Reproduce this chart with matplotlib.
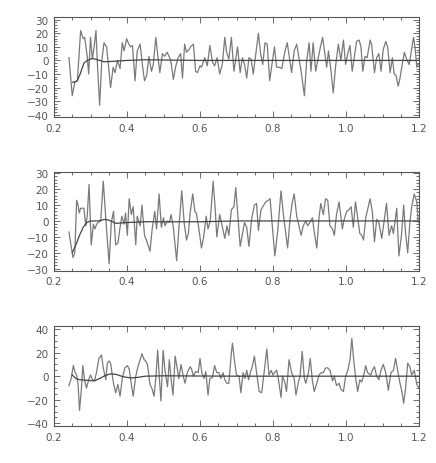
import matplotlib
matplotlib.use("Agg")
import matplotlib.pyplot as plt
from matplotlib.ticker import MultipleLocator

# ---------------- data ----------------
p1_x = [0.241, 0.250, 0.257, 0.264, 0.273, 0.280, 0.284, 0.291, 0.295, 0.300, 0.305, 0.310, 0.315, 0.319,
        0.325, 0.331, 0.337, 0.344, 0.349, 0.355, 0.362, 0.367, 0.374, 0.381, 0.387, 0.392, 0.399, 0.405,
        0.410, 0.415, 0.422, 0.428, 0.436, 0.442, 0.448, 0.454, 0.460, 0.467, 0.472, 0.479, 0.485, 0.490,
        0.497, 0.503, 0.510, 0.520, 0.527, 0.533, 0.540, 0.547, 0.552, 0.558, 0.563, 0.570, 0.574, 0.582,
        0.588, 0.593, 0.600, 0.604, 0.613, 0.620, 0.627, 0.634, 0.640, 0.647, 0.654, 0.661, 0.668, 0.673,
        0.679, 0.686, 0.693, 0.703, 0.710, 0.716, 0.722, 0.728, 0.734, 0.740, 0.746, 0.753, 0.760, 0.766,
        0.772, 0.778, 0.784, 0.791, 0.796, 0.804, 0.810, 0.816, 0.824, 0.833, 0.839, 0.845, 0.851, 0.858,
        0.865, 0.871, 0.877, 0.886, 0.892, 0.899, 0.904, 0.910, 0.917, 0.924, 0.930, 0.936, 0.942, 0.947,
        0.952, 0.959, 0.965, 0.972, 0.979, 0.986, 0.993, 0.999, 1.005, 1.011, 1.017, 1.023, 1.029, 1.036,
        1.041, 1.046, 1.052, 1.058, 1.066, 1.070, 1.078, 1.084, 1.090, 1.096, 1.102, 1.109, 1.114, 1.121,
        1.127, 1.132, 1.137, 1.143, 1.148, 1.154, 1.160, 1.166, 1.173, 1.178, 1.185, 1.189, 1.194, 1.198]
p1_y = [2, -26, -16, -15, 22, 16, 17, 3, -10, 17, 1, 10, 22, -3,
        -33, 0, 13, 10, -3, -20, -5, -9, 0, -6, 13, 7, 16, 12,
        10, 11, -15, 7, 12, -3, -15, -11, 3, -8, -3, 17, 2, -9,
        5, 3, 6, 0, -14, -5, 2, 5, -13, 12, 6, 8, 10, 12,
        -8, -9, -4, -5, 2, -4, 11, -1, -4, 2, -10, -3, 17, 6,
        1, 17, -8, 10, -9, 2, -3, -13, 2, 1, -10, 5, 20, 5,
        -3, 13, 12, -15, -5, 10, -5, -5, -6, 7, 13, 2, -9, 7,
        12, 2, -8, -26, -1, 13, -8, 13, -8, 2, 10, 17, 5, -5,
        7, -8, -24, -3, 12, 0, 15, -3, 5, 11, -8, 3, 14, 15,
        10, -8, 3, 2, 15, 12, -9, 2, 5, -8, 8, 14, 10, -9,
        2, -10, -11, -19, -13, -3, 6, 1, -3, 5, 17, 10, -5, -3]
p1_sx = [0.251, 0.257, 0.264, 0.273, 0.282, 0.291, 0.305, 0.319, 0.337, 0.360, 0.400, 0.450, 0.500, 0.600, 0.800, 1.000, 1.200]
p1_sy = [-16, -16, -15, -9, -2, 0, 1.5, 0.5, -1, -0.7, 0, 0.5, 0.3, 0, 0, 0, 0]

p2_x = [0.241, 0.247, 0.252, 0.257, 0.262, 0.266, 0.269, 0.273, 0.282, 0.287, 0.291, 0.296, 0.302, 0.308,
        0.312, 0.317, 0.321, 0.328, 0.335, 0.342, 0.351, 0.357, 0.363, 0.369, 0.375, 0.381, 0.386, 0.392,
        0.396, 0.401, 0.406, 0.412, 0.417, 0.424, 0.428, 0.436, 0.441, 0.448, 0.456, 0.463, 0.469, 0.476,
        0.481, 0.488, 0.494, 0.500, 0.504, 0.511, 0.516, 0.521, 0.527, 0.536, 0.542, 0.550, 0.557, 0.563,
        0.568, 0.573, 0.580, 0.586, 0.590, 0.597, 0.604, 0.610, 0.617, 0.622, 0.628, 0.636, 0.641, 0.646,
        0.654, 0.668, 0.674, 0.679, 0.686, 0.693, 0.698, 0.710, 0.722, 0.728, 0.734, 0.742, 0.749, 0.755,
        0.760, 0.767, 0.780, 0.787, 0.792, 0.798, 0.805, 0.813, 0.822, 0.828, 0.840, 0.847, 0.853, 0.858,
        0.865, 0.877, 0.883, 0.890, 0.895, 0.901, 0.908, 0.913, 0.920, 0.926, 0.931, 0.938, 0.944, 0.950,
        0.956, 0.963, 0.968, 0.974, 0.981, 0.990, 0.995, 1.002, 1.008, 1.014, 1.020, 1.026, 1.032, 1.038,
        1.043, 1.048, 1.054, 1.066, 1.072, 1.078, 1.084, 1.090, 1.098, 1.111, 1.118, 1.125, 1.130, 1.139,
        1.145, 1.152, 1.158, 1.163, 1.169, 1.175, 1.180, 1.187, 1.194, 1.198]
p2_y = [-7, -16, -23, -20, 13, 10, 5, 8, 8, -3, 3, 23, -15, -2,
        -5, -2, -1, 0, 25, 1, -27, -1, 6, -15, -14, -4, 3, -2,
        5, -9, 14, 4, 9, -15, 3, -3, 10, -9, -14, -19, -5, 6,
        -5, 17, -4, 2, -3, 0, -1, 4, -4, -25, -5, 19, -2, -12,
        -8, 5, 17, 6, 5, -5, -17, -10, 3, -5, 0, 25, 10, -10,
        4, -11, -3, -9, 7, 9, 21, -16, -1, -4, -16, 2, 10, 11,
        -6, 7, 12, 13, 14, -3, -22, -6, 19, 5, -17, 2, 12, 17,
        3, -9, -3, 0, -3, -1, 2, -7, -17, 2, 11, 4, 14, 13,
        -3, -5, -9, 4, 12, -5, 1, 6, 7, 9, -4, 12, 2, -8,
        -9, -12, 2, 14, 6, -13, 1, -1, -11, 11, -9, -3, -8, 8,
        -22, -9, 10, -7, -20, -1, 9, 17, 12, -1]
p2_sx = [0.250, 0.260, 0.270, 0.280, 0.290, 0.300, 0.320, 0.340, 0.350, 0.370, 0.400, 0.450, 0.500, 0.600, 0.700, 0.900, 1.200]
p2_sy = [-20, -15, -9, -4, -1, 0, 0, 1, 0.5, -1.5, -1, -0.5, -0.5, -0.5, 0, 0, 0]

p3_x = [0.241, 0.247, 0.253, 0.258, 0.262, 0.266, 0.270, 0.275, 0.279, 0.284, 0.289, 0.295, 0.300, 0.306,
        0.311, 0.317, 0.323, 0.330, 0.335, 0.342, 0.346, 0.351, 0.355, 0.363, 0.369, 0.375, 0.381, 0.387,
        0.394, 0.401, 0.406, 0.412, 0.417, 0.424, 0.430, 0.436, 0.441, 0.447, 0.451, 0.456, 0.463, 0.469,
        0.474, 0.479, 0.484, 0.489, 0.493, 0.499, 0.504, 0.511, 0.516, 0.521, 0.526, 0.532, 0.538, 0.542,
        0.548, 0.554, 0.559, 0.565, 0.573, 0.577, 0.582, 0.588, 0.595, 0.600, 0.605, 0.611, 0.616, 0.622,
        0.627, 0.634, 0.640, 0.646, 0.652, 0.657, 0.663, 0.668, 0.673, 0.679, 0.686, 0.689, 0.694, 0.700,
        0.707, 0.712, 0.718, 0.723, 0.728, 0.733, 0.737, 0.743, 0.749, 0.755, 0.762, 0.769, 0.776, 0.783,
        0.789, 0.795, 0.800, 0.804, 0.810, 0.815, 0.822, 0.826, 0.833, 0.837, 0.844, 0.851, 0.858, 0.863,
        0.869, 0.874, 0.880, 0.886, 0.890, 0.897, 0.902, 0.908, 0.913, 0.920, 0.926, 0.932, 0.938, 0.944,
        0.950, 0.956, 0.963, 0.968, 0.974, 0.981, 0.986, 0.993, 0.999, 1.005, 1.011, 1.016, 1.021, 1.027,
        1.032, 1.038, 1.043, 1.048, 1.054, 1.059, 1.068, 1.072, 1.078, 1.084, 1.090, 1.096, 1.102, 1.109,
        1.116, 1.123, 1.130, 1.136, 1.142, 1.148, 1.153, 1.158, 1.163, 1.169, 1.175, 1.180, 1.187, 1.194,
        1.200]
p3_y = [-8, -2, 9, 3, 1, -7, -29, -11, 9, -4, -10, -3, 1, -3,
        -4, 4, 15, 18, 7, -3, 11, 13, 11, -6, -14, -7, -17, -2,
        7, 9, 6, -7, -17, 0, 8, 14, 19, 14, 13, 10, -7, -11,
        -17, -2, 22, -3, -21, 22, 5, -9, 14, -3, -16, 17, 6, -2,
        10, 0, -6, 3, 8, 6, 0, 4, 3, 15, 3, -2, 4, -16,
        -2, -1, 9, 3, 3, -2, 3, -3, -6, -6, 20, 28, 14, 1,
        0, -14, 3, -2, 5, -3, 2, 8, 17, 3, -13, -14, 4, 23,
        1, 5, 1, 3, 5, -3, -18, 0, -6, -13, 14, 3, -2, -16,
        -6, 0, 21, -2, -6, 3, 15, -4, -13, -6, 1, 3, 3, 7,
        7, 5, -4, 0, -8, -6, -11, -13, 0, 5, 14, 32, 14, -3,
        -13, -3, -5, 0, 9, 3, 1, 5, 8, 0, -3, 5, 10, 3,
        -12, 3, 5, 15, 4, -6, -13, -23, -11, 11, 8, 1, 5, -7,
        -10]
p3_sx = [0.250, 0.260, 0.270, 0.290, 0.310, 0.325, 0.340, 0.355, 0.370, 0.390, 0.410, 0.430, 0.450, 0.500, 0.700, 1.000, 1.200]
p3_sy = [1, -2, -3, -3.5, -4, -2, 0.5, 2, 1.5, -0.5, -1.5, -1, 0, 0.3, 0, 0, 0]

x_ticks = [0.2, 0.4, 0.6, 0.8, 1.0, 1.2]
x_ticklabels = ["0.2", "0.4", "0.6", "0.8", "1.0", "1.2"]

panels = [
    dict(x=p1_x, y=p1_y, sx=p1_sx, sy=p1_sy, ylim=(-41.7, 32.0), major=10, minor=2,
         yticks=[-40, -30, -20, -10, 0, 10, 20, 30]),
    dict(x=p2_x, y=p2_y, sx=p2_sx, sy=p2_sy, ylim=(-31.3, 31.0), major=10, minor=2,
         yticks=[-30, -20, -10, 0, 10, 20, 30]),
    dict(x=p3_x, y=p3_y, sx=p3_sx, sy=p3_sy, ylim=(-42.5, 42.8), major=20, minor=5,
         yticks=[-40, -20, 0, 20, 40]),
]

# ---------------- figure ----------------
W, H = 436, 464
fig = plt.figure(figsize=(W / 100, H / 100), dpi=100)
boxes = [(18, 118), (172.7, 271.7), (326.7, 427.3)]
left_px, right_px = 54, 419
axis_col = "#555555"
text_col = "#555555"

for p, (top, bot) in zip(panels, boxes):
    ax = fig.add_axes([left_px / W, 1 - bot / H, (right_px - left_px) / W, (bot - top) / H])
    ax.plot(p["x"], p["y"], color="#7a7a7a", lw=0.9)
    ax.plot(p["sx"], p["sy"], color="#444444", lw=0.9)
    ax.set_xlim(0.2, 1.2)
    ax.set_ylim(*p["ylim"])
    ax.set_xticks(x_ticks)
    ax.set_xticklabels(x_ticklabels)
    ax.xaxis.set_minor_locator(MultipleLocator(0.05))
    ax.set_yticks(p["yticks"])
    ax.yaxis.set_minor_locator(MultipleLocator(p["minor"]))
    ax.tick_params(which="both", direction="in", top=True, right=True, colors=axis_col,
                   labelcolor=text_col, labelsize=7.5, width=0.6)
    ax.tick_params(which="major", length=4.5, pad=4)
    ax.tick_params(which="minor", length=2.5)
    for s in ax.spines.values():
        s.set_color(axis_col)
        s.set_linewidth(0.8)

fig.savefig("out.png", dpi=100)
